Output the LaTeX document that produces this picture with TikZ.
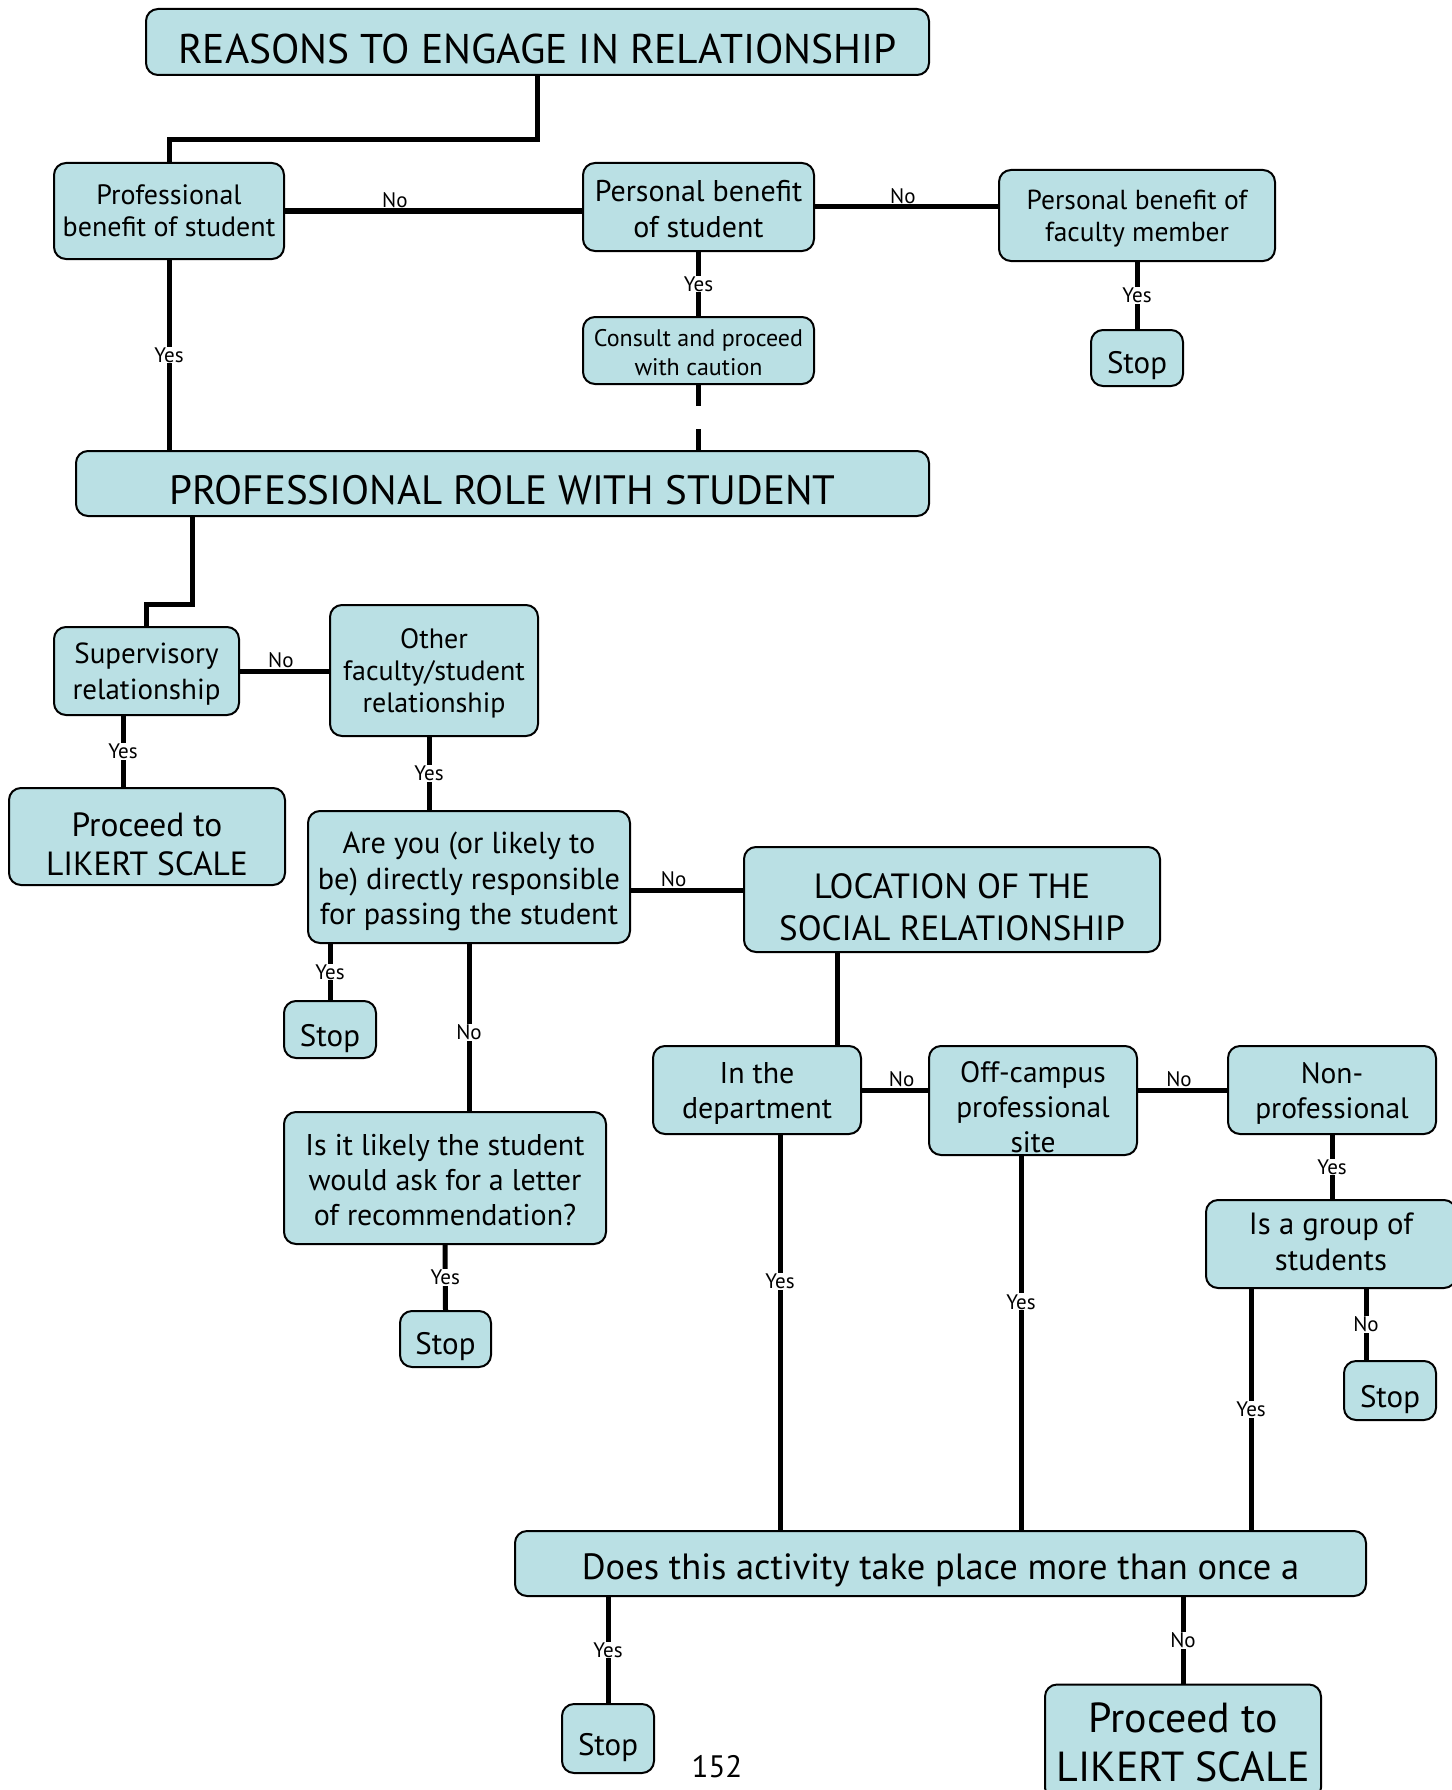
\documentclass[tikz,border=0pt]{standalone}
\usepackage{fontspec}
\setmainfont{PT Sans}
\usetikzlibrary{calc}
\definecolor{boxfill}{RGB}{186,224,228}
\newcommand{\fsz}[2]{\fontsize{#1}{#2}\selectfont}
\tikzset{
  box/.style={draw=black, line width=2pt, fill=boxfill, rounded corners=12pt, inner sep=0pt},
  tx/.style={inner sep=0pt, align=center},
  conn/.style={line width=5pt},
  lbl/.style={fill=white, inner sep=1pt, font=\fsz{21}{23}},
  nolbl/.style={above, inner sep=1pt, font=\fsz{21}{23}},
}
% name, x, y, width, height, font size, baselineskip, text yshift, text
\newcommand{\bx}[9]{%
  \node[box, minimum width=#4pt, minimum height=#5pt] (#1) at (#2,#3) {};
  \node[tx, font=\fsz{#6}{#7}] (#1-t) at ([yshift=#8pt]#1.center) {#9};}
\begin{document}
\begin{tikzpicture}[x=1pt, y=-1pt]
\useasboundingbox (0,0) rectangle (1451,1790);
\fill[white] (0,0) rectangle (1451,1790);
% nodes
\bx{reasons}{537.5}{42}{783}{66}{41.5}{48}{-7}{REASONS TO ENGAGE IN RELATIONSHIP}
\bx{profben}{169}{211}{230}{96}{28}{32}{0}{Professional\\benefit of student}
\bx{persben}{698.5}{207}{231}{88}{30}{35.4}{-2}{Personal benefit\\of student}
\bx{facben}{1137}{215.5}{276}{91}{27.5}{32}{-3}{Personal benefit of\\faculty member}
\bx{consult}{698.5}{350.5}{231}{67}{24}{28.5}{-2}{Consult and proceed\\with caution}
\bx{stopa}{1137}{358}{92}{56}{31}{35}{-8}{Stop}
\bx{role}{502.5}{483.5}{853}{65}{41}{48}{-7}{PROFESSIONAL ROLE WITH STUDENT}
\bx{superv}{146.5}{671}{185}{88}{29}{35.4}{-3}{Supervisory\\relationship}
\bx{other}{434}{670.5}{208}{131}{28}{32}{-3}{Other\\faculty/student\\relationship}
\bx{likerta}{147}{836.5}{276}{97}{33.5}{38.8}{-8}{Proceed to\\LIKERT SCALE}
\bx{areyou}{469}{877}{322}{132}{30.3}{35.4}{-4.5}{Are you (or likely to\\be) directly responsible\\for passing the student}
\bx{location}{952}{899.5}{416}{105}{35}{42.2}{-7.5}{LOCATION OF THE\\SOCIAL RELATIONSHIP}
\bx{stopb}{330}{1029.5}{92}{57}{31}{35}{-9}{Stop}
\bx{likely}{445}{1178}{322}{132}{30}{35.4}{-2}{Is it likely the student\\would ask for a letter\\of recommendation?}
\bx{stopc}{445.5}{1339}{91}{56}{31}{35}{-8}{Stop}
\bx{dept}{757}{1090}{208}{88}{30}{35.4}{-3.5}{In the\\department}
\bx{offc}{1033}{1100.5}{208}{109}{29.5}{35}{-7}{Off-campus\\professional\\site}
\bx{nonprof}{1332}{1090}{208}{88}{29.5}{35.4}{-3.5}{Non-\\professional}
\bx{group}{1331}{1244}{250}{88}{30.7}{36.5}{2}{Is a group of\\students}
\bx{stopd}{1390}{1390.5}{92}{59}{31}{35}{-9}{Stop}
\bx{does}{940.5}{1563.5}{851}{65}{36.5}{42}{-7}{Does this activity take place more than once a}
\bx{stope}{608}{1738.5}{92}{69}{31}{35}{-9}{Stop}
\bx{likertb}{1183}{1742}{276}{115}{42}{49}{0}{Proceed to\\LIKERT SCALE}
\node[font=\fsz{31}{34}, inner sep=0pt] (pagenum) at (717,1767) {152};
% connectors
\draw[conn] (reasons.south) -- ++(0,64) -| (profben.north);
\draw[conn] (profben.east) -- (profben.east -| persben.west) node[nolbl, pos=0.37] {No};
\draw[conn] (persben.east) -- (persben.east -| facben.west) node[nolbl, pos=0.48] {No};
\draw[conn] (persben.south) -- (consult.north) node[lbl, midway] {Yes};
\draw[conn] (facben.south) -- (stopa.north) node[lbl, midway] {Yes};
\draw[conn] (profben.south) -- (profben.south |- role.north) node[lbl, midway] {Yes};
\draw[conn, dash pattern=on 21pt off 23pt on 40pt] (consult.south) -- (consult.south |- role.north);
\draw[conn] ([xshift=117pt]role.south west) -- ++(0,87) -| (superv.north);
\draw[conn] (superv.east) -- (superv.east -| other.west) node[nolbl, pos=0.46] {No};
\path ([xshift=-23.5pt]superv.south) coordinate (c1);
\draw[conn] (c1) -- (c1 |- likerta.north) node[lbl, midway] {Yes};
\path ([xshift=-5pt]other.south) coordinate (c2);
\draw[conn] (c2) -- (c2 |- areyou.north) node[lbl, midway] {Yes};
\path ([yshift=-13pt]areyou.east) coordinate (c3);
\draw[conn] (c3) -- (c3 -| location.west) node[nolbl, pos=0.38] {No};
\draw[conn] (stopb.north |- areyou.south) -- (stopb.north) node[lbl, midway] {Yes};
\draw[conn] (areyou.south) -- (areyou.south |- likely.north) node[lbl, pos=0.53] {No};
\draw[conn] (likely.south) -- (stopc.north) node[lbl, midway] {Yes};
\path ([xshift=-115pt]location.south) coordinate (c4);
\draw[conn] (c4) -- (c4 |- dept.north);
\draw[conn] (dept.east) -- (dept.east -| offc.west) node[nolbl, pos=0.6] {No};
\draw[conn] (nonprof.west -| offc.east) -- (nonprof.west) node[nolbl, pos=0.46] {No};
\draw[conn] (nonprof.south) -- (nonprof.south |- group.north) node[lbl, midway] {Yes};
\path ([xshift=-24pt]stopd.north) coordinate (c5);
\draw[conn] (c5 |- group.south) -- (c5) node[lbl, midway] {No};
\path ([xshift=-80pt]group.south) coordinate (c6);
\draw[conn] (c6) -- (c6 |- does.north) node[lbl, midway] {Yes};
\path ([xshift=23pt]dept.south) coordinate (c7);
\draw[conn] (c7) -- (c7 |- does.north) node[lbl, pos=0.37] {Yes};
\path ([xshift=-12pt]offc.south) coordinate (c8);
\draw[conn] (c8) -- (c8 |- does.north) node[lbl, pos=0.39] {Yes};
\draw[conn] (stope.north |- does.south) -- (stope.north) node[lbl, midway] {Yes};
\draw[conn] (likertb.north |- does.south) -- (likertb.north) node[lbl, midway] {No};
\end{tikzpicture}
\end{document}
